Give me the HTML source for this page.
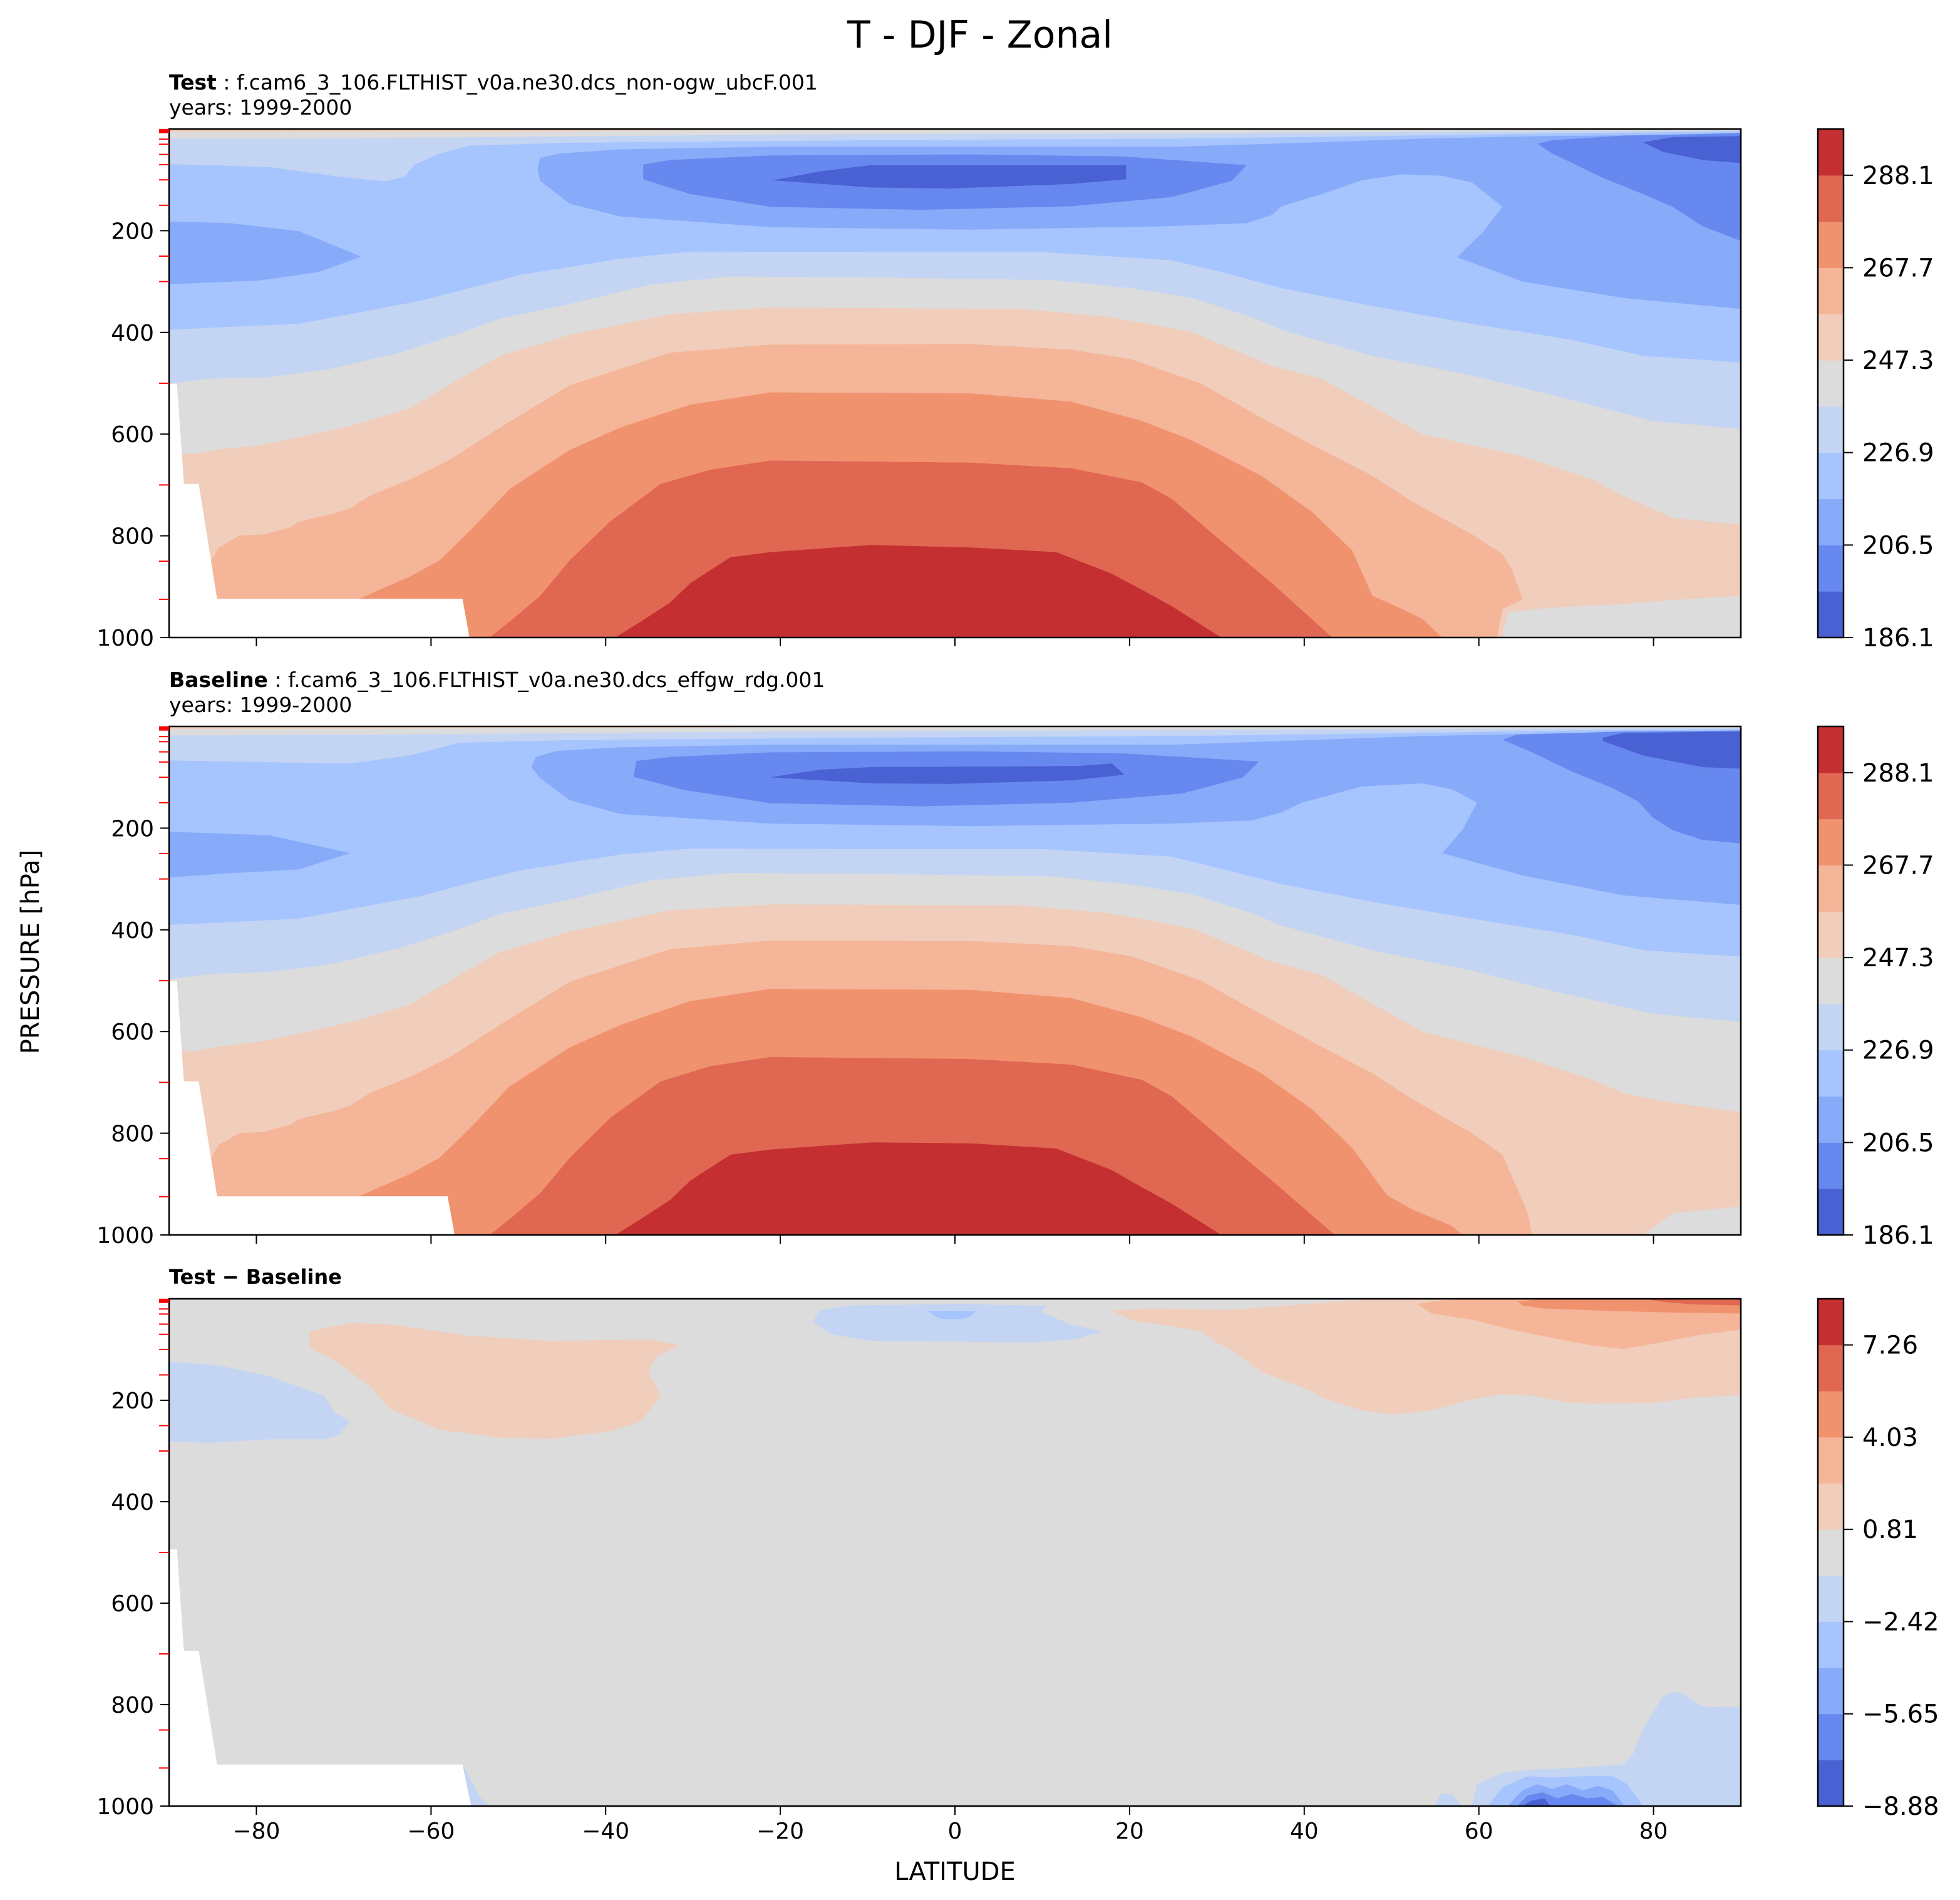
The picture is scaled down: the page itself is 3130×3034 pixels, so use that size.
<!DOCTYPE html>
<html><head><meta charset="utf-8"><title>T - DJF - Zonal</title>
<style>html,body{margin:0;padding:0;background:#fff}svg{display:block}text{font-family:"DejaVu Sans","Liberation Sans",sans-serif;fill:#000}</style>
</head><body>
<svg id="chart" xmlns="http://www.w3.org/2000/svg" width="3130" height="3034" viewBox="0 0 3130 3034">
<rect x="0" y="0" width="3130" height="3034" fill="#fff"/>
<text x="1565" y="76" font-size="60" text-anchor="middle">T - DJF - Zonal</text>
<text x="270" y="143" font-size="33"><tspan font-weight="bold">Test</tspan> : f.cam6_3_106.FLTHIST_v0a.ne30.dcs_non-ogw_ubcF.001</text>
<text x="270" y="183" font-size="33">years: 1999-2000</text>
<text x="270" y="1097" font-size="33"><tspan font-weight="bold">Baseline</tspan> : f.cam6_3_106.FLTHIST_v0a.ne30.dcs_effgw_rdg.001</text>
<text x="270" y="1137" font-size="33">years: 1999-2000</text>
<text x="270" y="2050" font-size="32" font-weight="bold">Test − Baseline</text>
<text x="0" y="0" font-size="40" text-anchor="middle" transform="translate(62,1520) rotate(-90)">PRESSURE [hPa]</text>
<text x="1525" y="3002" font-size="40" text-anchor="middle">LATITUDE</text>
</svg>
<script>
// ---- data: contour band colors (coolwarm, 11 levels) ----
const bandColors = ['#4961d2','#6788ee','#87aaf9','#a6c4fe','#c3d5f3','#dcdcdc','#f1cdbb','#f5b598','#f1926f','#e06852','#c43032'];
const tempTickLabels = ['186.1','206.5','226.9','247.3','267.7','288.1'];
const diffTickLabels = ['−8.88','−5.65','−2.42','0.81','4.03','7.26'];
const latTicks = [-80,-60,-40,-20,0,20,40,60,80];
const presTicks = [200,400,600,800,1000];
const modelLevels = [1,2,3,4,5,7,20,30,50,70,100,150,250,300,500,700,850,925];

// ---- TEST field: filled-contour regions [lat, hPa], with band index ----
const testBands = [4,5,6,2,2,1,1,0,0,4,5,6,7,8,9,10,5];
const testE_up = [[-90,0],[90,0],[90,5],[70.7,8],[47.8,14],[24.8,19],[-9.6,22],[-44.1,27],[-55.6,33],[-59,48],[-61.9,70],[-63,94],[-65.3,103],[-70.5,94],[-78.5,75],[-90,69]];
const testF_top = [[-90,0],[90,0],[90,3],[24.8,8],[-21.1,11],[-67,18],[-90,19]];
const testG_top = [[-90,0],[-9.6,0],[-9.6,1],[-55.6,5],[-90,6]];
const testC_main = [[-47.5,57],[-45.2,48],[-38.3,40],[-21.1,35],[24.8,35],[42,26],[53.5,19],[67.3,14],[90,10],[90,354],[76.5,332],[65,300],[57.5,252],[60.4,204],[62.7,153],[59.2,105],[55.8,92],[51.2,89],[46.6,101],[42,128],[37.4,152],[36.3,169],[33.4,185],[24.8,191],[1.8,198],[-21.1,193],[-38.3,172],[-44.1,147],[-47.5,102],[-47.8,77]];
const testC_sh = [[-90,182],[-83.1,185],[-75.1,201],[-68,251],[-72.8,281],[-79.7,298],[-90,305]];
const testB_trop = [[-35.7,70],[-32.6,61],[-21.1,52],[1.8,50],[19.1,54],[33.4,71],[31.7,102],[24.8,134],[13.3,152],[-3.9,159],[-21.1,153],[-30.3,128],[-35.7,99]];
const testB_pol = [[66.7,29],[68.4,22],[76.5,13],[90,8],[90,220],[85.6,191],[82.2,153],[78.8,128],[74.2,96],[68.4,48]];
const testA_trop = [[-20.9,101],[-15.4,83],[-9.6,71],[19.6,71],[19.6,99],[13.3,108],[-0.5,117],[-9.6,115]];
const testA_pol = [[78.8,26],[82.2,16],[90,14],[90,67],[85.6,61],[81.1,45]];
const testE_low = [[-90,395],[-83.1,389],[-75.1,383],[-61.3,338],[-55.6,313],[-49.8,287],[-38.3,255],[-30.3,241],[-9.6,242],[9.9,242],[24.8,258],[30.5,281],[37.4,313],[47.8,348],[59.2,383],[70.7,415],[78.8,446],[90,459]];
const testF_low = [[-90,501],[-85.4,491],[-78.5,488],[-71.6,472],[-63.6,440],[-56.7,402],[-52.1,373],[-44.1,344],[-34.9,306],[-25.7,290],[-9.6,292],[11,297],[20.2,313],[27.1,332],[34,370],[37.4,395],[47.8,446],[59.2,485],[68.4,523],[79.9,574],[90,590]];
const testG_low = [[-90,640],[-86.6,638],[-84.8,631],[-79.7,622],[-75.1,606],[-69.3,584],[-62.4,549],[-56.7,491],[-52.1,446],[-44.1,405],[-32.6,364],[-21.1,351],[7.6,354],[17.9,370],[27.1,399],[36.3,466],[42,491],[53.5,600],[65,644],[73,689],[76.5,721],[82.2,765],[90,778]];
const testH_low = [[-90,855],[-85.4,855],[-84.3,823],[-82,800],[-79.1,797],[-76.2,784],[-75.1,772],[-71.1,756],[-69.3,746],[-67,721],[-62.4,689],[-57.9,651],[-52.1,587],[-44.1,504],[-32.6,440],[-21.1,424],[1.8,423],[13.3,434],[20.2,453],[28.2,501],[35.1,568],[42,631],[47.8,682],[52.4,733],[59.2,797],[62.7,836],[63.8,867],[65,925],[62.7,944],[62.1,1000]];
const testI_low = [[-90,930],[-68.2,924],[-65.9,906],[-62.4,880],[-59,848],[-55.6,791],[-51,708],[-44.1,631],[-38.3,587],[-30.3,542],[-21.1,518],[1.8,520],[13.3,536],[21.4,574],[27.1,612],[35.1,682],[40.9,753],[45.5,829],[47.8,918],[51.2,944],[53.5,963],[55.8,1000]];
const testJ_low = [[-53.3,1000],[-51,969],[-47.5,918],[-44.1,848],[-39.5,772],[-33.7,698],[-28,670],[-21.1,652],[1.8,656],[13.3,667],[21.4,695],[24.8,727],[30.5,810],[36.3,893],[43.2,1000]];
const testK_low = [[-38.9,1000],[-36,969],[-32.6,931],[-30.3,893],[-25.7,842],[-21.1,832],[-9.6,818],[1.8,823],[11.6,832],[17.9,874],[21.4,906],[24.8,938],[30.5,1000]];
const testF_pocket = [[62.7,1000],[63.3,950],[68.4,941],[76.5,934],[83.3,925],[90,918],[90,1000]];
const testMask = [[-90,501],[-89.1,501],[-88.3,698],[-86.6,698],[-84.5,924],[-56.4,924],[-55.6,1000],[-90,1000]];

// ---- BASELINE field ----
const baseBands = [4,5,6,2,2,1,1,0,0,4,5,6,7,8,9,10,5];
const baseE_up = [[-90,0],[90,0],[90,5],[70.7,8],[47.8,14],[24.8,19],[-9.6,22],[-44.1,27],[-56.7,32],[-62.4,57],[-69.3,73],[-90,67]];
const baseF_top = [[-90,0],[90,0],[90,3],[24.8,7],[-21.1,10],[-67,16],[-90,18]];
const baseG_top = [[-90,0],[-9.6,0],[-9.6,1],[-55.6,4],[-90,5]];
const baseC_main = [[-48,60],[-45.5,48],[-38.3,41],[-21.1,36],[24.8,36],[42,26],[53.5,19],[67.3,14],[90,10],[90,351],[76.5,332],[65,293],[55.8,249],[58.1,204],[59.8,150],[57,124],[53.5,112],[46.6,118],[39.7,150],[37.4,169],[34,185],[24.8,191],[1.8,196],[-21.1,191],[-38.3,172],[-44.1,145],[-47.5,102],[-48.5,80]];
const baseC_sh = [[-90,207],[-78.5,214],[-69.3,249],[-75.1,281],[-84.3,290],[-90,297]];
const baseB_trop = [[-36.5,68],[-32.6,60],[-21.1,51],[1.8,49],[19.1,53],[34.8,69],[33,100],[26,132],[13.3,150],[-3.9,157],[-21.1,151],[-31,125],[-36.8,99]];
const baseB_pol = [[62.7,26],[64.4,16],[76.5,10],[90,8],[90,230],[85.6,223],[82.2,204],[79.9,179],[78.2,147],[75.3,121],[70.7,89],[66.1,51]];
const baseA_trop = [[-21.2,100],[-15.4,85],[-9.6,80],[14,78],[18,73],[19.4,95],[13.3,106],[-0.5,113],[-9.6,112]];
const baseA_pol = [[74.2,22],[76.5,13],[90,10],[90,83],[85.6,80],[78.8,57],[74.2,29]];
const baseE_low = [[-90,390],[-83.1,385],[-75.1,378],[-61.3,334],[-55.6,308],[-49.8,283],[-38.3,252],[-30.3,240],[-9.6,241],[9.9,241],[24.8,256],[30.5,280],[37.4,310],[47.8,345],[59.2,378],[70.7,410],[78.8,440],[90,453]];
const baseF_low = [[-90,497],[-85.4,487],[-78.5,483],[-71.6,468],[-63.6,436],[-56.7,398],[-52.1,369],[-44.1,340],[-34.9,303],[-25.7,288],[-9.6,290],[11,295],[20.2,311],[27.1,330],[34,367],[37.4,392],[47.8,440],[59.2,480],[68.4,520],[79.9,565],[90,581]];
const baseG_low = [[-90,640],[-86.6,638],[-84.8,631],[-79.7,620],[-75.1,604],[-69.3,582],[-62.4,547],[-56.7,488],[-52.1,444],[-44.1,403],[-32.6,362],[-21.1,350],[7.6,352],[17.9,368],[27.1,397],[36.3,462],[42,489],[53.5,600],[65,650],[73,695],[76.5,721],[82.2,740],[90,759]];
const baseH_low = [[-90,855],[-85.4,855],[-84.3,823],[-82,800],[-79.1,797],[-76.2,784],[-75.1,772],[-71.1,756],[-69.3,746],[-67,721],[-62.4,689],[-57.9,651],[-52.1,587],[-44.1,502],[-32.6,438],[-21.1,421],[1.8,422],[13.3,432],[20.2,452],[28.2,500],[35.1,566],[42,630],[47.8,682],[52.4,733],[59.2,800],[62.7,842],[65.6,957],[66.1,1000]];
const baseI_low = [[-90,930],[-68.2,924],[-65.9,906],[-62.4,880],[-59,848],[-55.6,791],[-51,708],[-44.1,631],[-38.3,587],[-30.3,540],[-21.1,516],[1.8,518],[13.3,534],[21.4,572],[27.1,610],[35.1,682],[40.9,753],[45.5,829],[49.5,922],[52.4,950],[56.9,982],[58.1,1000]];
const baseJ_low = [[-53.3,1000],[-51,969],[-47.5,918],[-44.1,848],[-39.5,770],[-33.7,698],[-28,668],[-21.1,650],[1.8,654],[13.3,665],[21.4,695],[24.8,727],[30.5,810],[36.3,893],[43.5,1000]];
const baseK_low = [[-38.9,1000],[-36,969],[-32.6,931],[-30.3,893],[-25.7,842],[-21.1,832],[-9.6,818],[1.8,820],[11.6,830],[17.9,872],[21.4,906],[24.8,938],[30.5,1000]];
const baseF_pocket = [[78.8,1000],[82.2,957],[90,944],[90,1000]];
const baseMask = [[-90,501],[-89.1,501],[-88.3,698],[-86.6,698],[-84.5,924],[-58.1,924],[-57.3,1000],[-90,1000]];

// ---- DIFFERENCE field ----
const diffBands = [6,4,4,3,6,7,8,9,4,4,3,2,1,0,4];
const diffG_sh = [[-73.9,64],[-69.3,48],[-64.7,50],[-55.6,73],[-46.4,83],[-34.9,80],[-31.5,92],[-34.3,115],[-35.1,144],[-33.7,191],[-36,242],[-39.5,261],[-46.4,276],[-52.1,274],[-59,258],[-64.7,217],[-67,172],[-71.1,121],[-73.9,96]];
const diffE_sh = [[-90,124],[-84.3,131],[-78.5,153],[-72.2,191],[-71.1,223],[-69.3,242],[-70.5,268],[-72.2,277],[-78.5,277],[-85.4,284],[-90,281]];
const diffE_trop = [[-15.4,22],[-11.9,13],[0.7,10],[10.5,14],[9.9,26],[13.3,51],[16.8,64],[13.9,80],[8.7,86],[-9.6,83],[-14.2,70],[-16.3,45]];
const diffD_trop = [[-3.1,24],[2.4,24],[1.8,35],[0.7,40],[-1.6,40],[-2.5,32]];
const diffG_nh = [[17.9,24],[22.5,19],[31.7,22],[39.7,11],[47.8,0],[90,0],[90,190],[84.5,195],[79.9,205],[73,207],[69.6,203],[66.1,191],[62.7,188],[59.2,198],[54.6,220],[50.1,228],[46.6,220],[42,195],[40.9,182],[35.1,144],[31.7,102],[30,86],[28.2,64],[23.7,51],[20.8,45]];
const diffH_nh = [[52.9,10],[55.8,3],[59.2,0],[90,0],[90,61],[85.6,70],[79.9,89],[76.5,99],[73,92],[68.4,77],[63.8,61],[59.2,41],[54.6,29]];
const diffI_nh = [[64.4,5],[67.3,0],[90,0],[90,29],[82.2,27],[75.3,24],[67.3,19],[65,13]];
const diffJ_nh = [[78.8,0],[90,0],[90,13],[84.5,11],[81.1,6]];
const diffE_nh = [[59.2,1000],[59.8,957],[62.7,934],[66.1,928],[70.7,925],[76.5,918],[77.6,899],[78.8,848],[79.9,816],[81.1,784],[82.2,775],[83.3,778],[85.6,804],[87.4,805],[90,805],[90,1000]];
const diffE_spike = [[54.9,1000],[55.6,976],[56.9,976],[58.1,1000]];
const diffD_nh = [[61,1000],[62.7,963],[65.6,941],[68.4,944],[71.9,941],[75.3,941],[77,957],[78.8,1000]];
const diffC_nh = [[63.3,1000],[65,969],[66.7,957],[68.4,966],[70.1,957],[71.9,969],[73.6,960],[75.3,969],[76.7,1000]];
const diffB_nh = [[64.4,1000],[65.6,979],[67.3,973],[69,985],[70.7,976],[72.4,985],[74.2,982],[75.9,1000]];
const diffA_nh = [[65,1000],[66.1,989],[67.5,985],[68.2,1000]];
const diffE_sliver = [[-56.4,918],[-55.6,944],[-54.4,982],[-53.3,1000],[-55.6,1000]];
const diffMask = [[-90,494],[-89.1,494],[-88.3,694],[-86.6,694],[-84.5,918],[-56.4,918],[-55.4,1000],[-90,1000]];

const testRegions = [testE_up,testF_top,testG_top,testC_main,testC_sh,testB_trop,testB_pol,testA_trop,testA_pol,testE_low,testF_low,testG_low,testH_low,testI_low,testJ_low,testK_low,testF_pocket];
const baseRegions = [baseE_up,baseF_top,baseG_top,baseC_main,baseC_sh,baseB_trop,baseB_pol,baseA_trop,baseA_pol,baseE_low,baseF_low,baseG_low,baseH_low,baseI_low,baseJ_low,baseK_low,baseF_pocket];
const diffRegions = [diffG_sh,diffE_sh,diffE_trop,diffD_trop,diffG_nh,diffH_nh,diffI_nh,diffJ_nh,diffE_nh,diffE_spike,diffD_nh,diffC_nh,diffB_nh,diffA_nh,diffE_sliver];
// regions whose upper boundary is a line; they fill down to the surface
const tempFillDown = [0,0,0,0,0,0,0,0,0,1,1,1,1,1,1,1,1];
const diffFillDown = [0,0,0,0,0,0,0,0,0,0,0,0,0,0,0];
const regionNames = ['upper-light-blue','top-gray-strip','top-warm-strip','tropopause-cold','sh-polar-cold','tropical-colder','nh-polar-colder','tropical-coldest','nh-polar-coldest','mid-light-blue','mid-gray','lower-light-warm','lower-warm','lower-warmer','lower-hot','surface-hottest','nh-surface-gray'];
const diffNames = ['sh-warm-anomaly','sh-cool-anomaly','tropical-cool-anomaly','tropical-cooler-core','nh-warm-anomaly','nh-warmer-anomaly','nh-warmest-anomaly','nh-top-hot-anomaly','nh-surface-cool','nh-surface-cool-spike','nh-surface-cooler','nh-surface-colder','nh-surface-coldest','nh-surface-min','sh-surface-cool-sliver'];

const NS='http://www.w3.org/2000/svg';
const svg=document.getElementById('chart');
function mk(tag, attrs, parent){const e=document.createElementNS(NS,tag);for(const k in attrs)e.setAttribute(k,attrs[k]);(parent||svg).appendChild(e);return e;}

const L=270, W=2510, CBX=2903, CBW=41;
const panels=[
 {key:'test',top:206,h:812,regions:testRegions,bands:testBands,down:tempFillDown,bg:3,mask:testMask,names:regionNames,ticks:tempTickLabels,xlabels:false},
 {key:'baseline',top:1160,h:812,regions:baseRegions,bands:baseBands,down:tempFillDown,bg:3,mask:baseMask,names:regionNames,ticks:tempTickLabels,xlabels:false},
 {key:'diff',top:2074,h:810,regions:diffRegions,bands:diffBands,down:diffFillDown,bg:5,mask:diffMask,names:diffNames,ticks:diffTickLabels,xlabels:true}
];

panels.forEach((P,pi)=>{
 const xs=lat=>L+(lat+90)/180*W;
 const ys=p=>P.top+p/1000*P.h;
 const g=mk('g',{});
 
 
 const cp=mk('clipPath',{id:'clip'+pi},g);
 mk('rect',{x:L,y:P.top,width:W,height:P.h},cp);
 const plot=mk('g',{'clip-path':'url(#clip'+pi+')'},g);
 
 
 const bg=mk('rect',{x:L,y:P.top,width:W,height:P.h,fill:bandColors[P.bg]},plot);
 
 
 P.regions.forEach((pts,i)=>{
  let all=pts.slice();
  if(P.down[i]){
   const first=pts[0], last=pts[pts.length-1];
   all.push([last[0],1005]);
   all.push([first[0],1005]);
  }
  const d='M'+all.map(q=>xs(q[0]).toFixed(1)+','+ys(q[1]).toFixed(1)).join('L')+'Z';
  const path=mk('path',{d:d,fill:bandColors[P.bands[i]]},plot);
  
  
 });
 const mpath=mk('path',{d:'M'+P.mask.map(q=>xs(q[0]).toFixed(1)+','+ys(q[1]).toFixed(1)).join('L')+'Z',fill:'#fff'},plot);
 
 
 const fr=mk('rect',{x:L,y:P.top,width:W,height:P.h,fill:'none',stroke:'#000','stroke-width':2.5},g);
 
 
 latTicks.forEach(t=>{
  const tk=mk('line',{x1:xs(t),x2:xs(t),y1:P.top+P.h,y2:P.top+P.h+14,stroke:'#000','stroke-width':2},g);
  
  
  if(P.xlabels){
   const tx=mk('text',{x:xs(t),y:P.top+P.h+52,'font-size':36,'text-anchor':'middle'},g);
   tx.textContent=(t<0?'−':'')+Math.abs(t);
   
   
  }
 });
 modelLevels.forEach(lv=>{
  const rt=mk('line',{x1:L-16,x2:L,y1:ys(lv),y2:ys(lv),stroke:'#ff0000','stroke-width':2},g);
  
  
 });
 presTicks.forEach(p=>{
  const yt=mk('line',{x1:L-14,x2:L,y1:ys(p),y2:ys(p),stroke:'#000','stroke-width':2},g);
  
  
  const lb=mk('text',{x:L-24,y:ys(p)+13,'font-size':36,'text-anchor':'end'},g);
  lb.textContent=String(p);
  
  
 });
 const cb=mk('g',{},g);
 
 
 const nb=bandColors.length, bh=P.h/nb;
 bandColors.forEach((c,i)=>{
  const r=mk('rect',{x:CBX,y:P.top+P.h-(i+1)*bh,width:CBW,height:bh+0.5,fill:c},cb);
  
  
 });
 const cbf=mk('rect',{x:CBX,y:P.top,width:CBW,height:P.h,fill:'none',stroke:'#000','stroke-width':2.5},cb);
 
 
 P.ticks.forEach((lbl,i)=>{
  const yy=P.top+P.h-i*2*bh;
  const ct=mk('line',{x1:CBX+CBW,x2:CBX+CBW+15,y1:yy,y2:yy,stroke:'#000','stroke-width':2},cb);
  
  
  const cl=mk('text',{x:CBX+CBW+30,y:yy+14,'font-size':40},cb);
  cl.textContent=lbl;
  
  
 });
});
</script>
</body></html>
